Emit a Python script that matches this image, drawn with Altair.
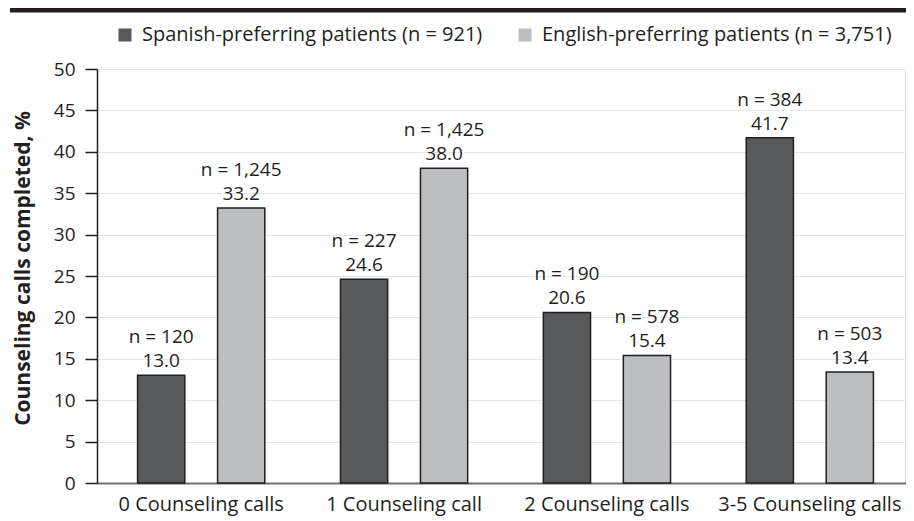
import altair as alt
import pandas as pd

categories = ["0 Counseling calls", "1 Counseling call", "2 Counseling calls", "3-5 Counseling calls"]
groups = ["Spanish-preferring patients (n = 921)", "English-preferring patients (n = 3,751)"]
spanish_pct = [13.0, 24.6, 20.6, 41.7]
spanish_n = ["120", "227", "190", "384"]
english_pct = [33.2, 38.0, 15.4, 13.4]
english_n = ["1,245", "1,425", "578", "503"]
colors = ["#58595b", "#bcbec0"]
y_ticks = [0, 5, 10, 15, 20, 25, 30, 35, 40, 45, 50]

rows = []
for i, c in enumerate(categories):
    rows.append({"cat": c, "grp": groups[0], "pct": spanish_pct[i],
                 "nlab": f"n = {spanish_n[i]}", "vlab": f"{spanish_pct[i]:.1f}"})
    rows.append({"cat": c, "grp": groups[1], "pct": english_pct[i],
                 "nlab": f"n = {english_n[i]}", "vlab": f"{english_pct[i]:.1f}"})
df = pd.DataFrame(rows)

FONT = "Open Sans"
TXT = "#231f20"

x_enc = alt.X("cat:N", sort=categories,
              scale=alt.Scale(range=[0, 817], paddingInner=0.373, paddingOuter=0.2),
              axis=alt.Axis(title=None, labelAngle=0, ticks=False, labelPadding=11,
                            domainColor="#6d6e71", domainWidth=2, labelFontSize=20,
                            labelFont=FONT, labelColor=TXT, grid=False, labelLimit=400))
xo_enc = alt.XOffset("grp:N", sort=groups, scale=alt.Scale(paddingInner=0.41, paddingOuter=0))
y_enc = alt.Y("pct:Q", scale=alt.Scale(domain=[0, 50], nice=False),
              axis=alt.Axis(title="Counseling calls completed,  %", values=y_ticks,
                            tickSize=12, tickWidth=1.5, tickColor="#231f20",
                            domainColor="#231f20", domainWidth=1.5,
                            labelFontSize=19, labelFont=FONT, labelColor=TXT, labelPadding=10,
                            titleFont=FONT, titleFontSize=21, titleFontWeight="bold",
                            titleColor=TXT, titlePadding=20, titleY=199,
                            grid=True, gridColor="#e6e6e6", gridWidth=1.2))

base = alt.Chart(df)

bars = base.mark_bar(stroke="#231f20", strokeWidth=1.5).encode(
    x=x_enc, xOffset=xo_enc, y=y_enc,
    color=alt.Color("grp:N", sort=groups,
                    scale=alt.Scale(domain=groups, range=colors),
                    legend=alt.Legend(title=None, orient="none", legendX=18, legendY=-44,
                                      direction="horizontal", columns=2, columnPadding=32,
                                      symbolType="square", symbolSize=170, symbolStrokeWidth=0,
                                      labelFontSize=20, labelFont=FONT, labelColor=TXT,
                                      labelLimit=600, labelOffset=7)),
)

vlabels = base.mark_text(baseline="alphabetic", dy=-8, fontSize=19, font=FONT, color=TXT).encode(
    x=alt.X("cat:N", sort=categories), xOffset=alt.XOffset("grp:N", sort=groups),
    y="pct:Q", text="vlab:N",
)
nlabels = base.mark_text(baseline="alphabetic", dy=-32, fontSize=19, font=FONT, color=TXT).encode(
    x=alt.X("cat:N", sort=categories), xOffset=alt.XOffset("grp:N", sort=groups),
    y="pct:Q", text="nlab:N",
)

topbar = alt.Chart(pd.DataFrame({"k": [0]})).mark_rule(color="#231f20", strokeWidth=5).encode(
    x=alt.value(-87), x2=alt.value(820), y=alt.value(-59),
)

chart = alt.layer(bars, vlabels, nlabels, topbar).properties(
    width=808, height=414,
    autosize=alt.AutoSizeParams(type="none"),
    padding={"left": 89, "top": 61, "right": 1, "bottom": 36},
).configure_view(stroke="#404041", strokeWidth=1.5).configure(background="white")

chart.save("out.html", embed_options={"renderer": "svg", "actions": False})
